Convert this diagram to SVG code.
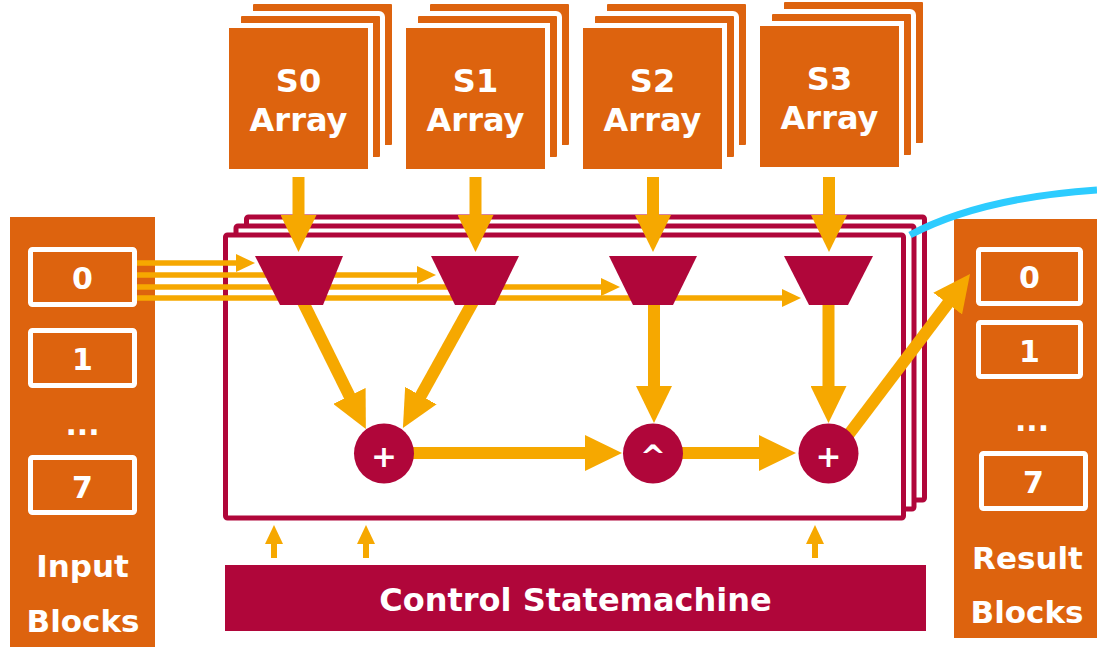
<svg xmlns="http://www.w3.org/2000/svg" width="1097" height="647" viewBox="0 0 1097 647">
  <style>
    .panel { fill: #DD630E; }
    .slot { fill: none; stroke: #FFFFFF; stroke-width: 5; }
    .layer { fill: #DD630E; stroke: #FFFFFF; stroke-width: 10; paint-order: stroke; }
    .frame { fill: #FFFFFF; stroke: #B0063A; stroke-width: 5; }
    .mux { fill: #B0063A; }
    .op { fill: #B0063A; }
    .bar { fill: #B0063A; }
    .txt { font-family: "DejaVu Sans", Verdana, sans-serif; font-weight: bold; fill: #FFFFFF; text-anchor: middle; }
    .thick { stroke: #F6A800; stroke-width: 12; fill: none; }
    .thin { stroke: #F6A800; stroke-width: 5.5; fill: none; }
    .ctl { stroke: #F6A800; stroke-width: 6; fill: none; }
    .head { fill: #F6A800; }
  </style>
  <defs>
    <marker id="bigHead" markerUnits="userSpaceOnUse" markerWidth="37" markerHeight="36" refX="1" refY="18" orient="auto">
      <path class="head" d="M0,0 L37,18 L0,36 z"/>
    </marker>
    <marker id="smallHead" markerUnits="userSpaceOnUse" markerWidth="19" markerHeight="18" refX="1" refY="9" orient="auto">
      <path class="head" d="M0,0 L19,9 L0,18 z"/>
    </marker>
  </defs>

  <rect width="1097" height="647" fill="#FFFFFF"/>

  <!-- stacked processing frames -->
  <g id="pipeline">
    <rect class="frame" x="246.5" y="217" width="678" height="283" rx="2"/>
    <rect class="frame" x="236" y="226" width="678" height="283" rx="2"/>
    <rect class="frame" x="225.5" y="235" width="678" height="283" rx="2"/>
  </g>

  <!-- input block store -->
  <g id="input-blocks">
    <rect class="panel" x="10" y="217" width="145" height="430"/>
    <rect class="slot" x="30.5" y="249.5" width="104" height="55" rx="2"/>
    <rect class="slot" x="30.5" y="330.5" width="104" height="55" rx="2"/>
    <rect class="slot" x="30.5" y="457.5" width="104" height="55" rx="2"/>
    <text class="txt" x="82.5" y="289" font-size="30">0</text>
    <text class="txt" x="82.5" y="370" font-size="30">1</text>
    <text class="txt" x="82.5" y="435" font-size="30">...</text>
    <text class="txt" x="82.5" y="498" font-size="30">7</text>
    <text class="txt" x="82.5" y="577" font-size="31">Input</text>
    <text class="txt" x="83" y="632" font-size="31">Blocks</text>
  </g>

  <!-- result block store -->
  <g id="result-blocks">
    <rect class="panel" x="954" y="219" width="143" height="419"/>
    <rect class="slot" x="978.5" y="249.5" width="102" height="54" rx="2"/>
    <rect class="slot" x="978.5" y="322.5" width="102" height="54" rx="2"/>
    <rect class="slot" x="981.5" y="453.5" width="104" height="55" rx="2"/>
    <text class="txt" x="1029.5" y="288" font-size="30">0</text>
    <text class="txt" x="1029.5" y="362" font-size="30">1</text>
    <text class="txt" x="1032" y="431" font-size="30">...</text>
    <text class="txt" x="1033.5" y="493" font-size="30">7</text>
    <text class="txt" x="1027.5" y="569" font-size="31">Result</text>
    <text class="txt" x="1027" y="623" font-size="31">Blocks</text>
  </g>

  <!-- S-box arrays, three stacked sheets each -->
  <g id="s0-array">
    <rect class="layer" x="253" y="4" width="139" height="141" rx="1"/>
    <rect class="layer" x="241" y="16" width="139" height="141" rx="1"/>
    <rect class="layer" x="229" y="28" width="139" height="141"/>
    <text class="txt" x="298.5" y="92" font-size="32">S0</text>
    <text class="txt" x="298.5" y="131" font-size="32">Array</text>
  </g>
  <g id="s1-array">
    <rect class="layer" x="430" y="4" width="139" height="141" rx="1"/>
    <rect class="layer" x="418" y="16" width="139" height="141" rx="1"/>
    <rect class="layer" x="406" y="28" width="139" height="141"/>
    <text class="txt" x="475.5" y="92" font-size="32">S1</text>
    <text class="txt" x="475.5" y="131" font-size="32">Array</text>
  </g>
  <g id="s2-array">
    <rect class="layer" x="607" y="4" width="139" height="141" rx="1"/>
    <rect class="layer" x="595" y="16" width="139" height="141" rx="1"/>
    <rect class="layer" x="583" y="28" width="139" height="141"/>
    <text class="txt" x="652.5" y="92" font-size="32">S2</text>
    <text class="txt" x="652.5" y="131" font-size="32">Array</text>
  </g>
  <g id="s3-array">
    <rect class="layer" x="784" y="2" width="139" height="141" rx="1"/>
    <rect class="layer" x="772" y="14" width="139" height="141" rx="1"/>
    <rect class="layer" x="760" y="26" width="139" height="141"/>
    <text class="txt" x="829.5" y="90" font-size="32">S3</text>
    <text class="txt" x="829.5" y="129" font-size="32">Array</text>
  </g>

  <!-- data paths -->
  <g id="connectors">
    <!-- input block bytes to the lookups -->
    <line class="thin" x1="137" y1="263" x2="237" y2="263" marker-end="url(#smallHead)"/>
    <line class="thin" x1="137" y1="275" x2="418" y2="275" marker-end="url(#smallHead)"/>
    <line class="thin" x1="137" y1="287" x2="602" y2="287" marker-end="url(#smallHead)"/>
    <line class="thin" x1="137" y1="298" x2="783" y2="298" marker-end="url(#smallHead)"/>

    <!-- S-box arrays into the lookups -->
    <line class="thick" x1="298.5" y1="177" x2="298.5" y2="216" marker-end="url(#bigHead)"/>
    <line class="thick" x1="475.5" y1="177" x2="475.5" y2="216" marker-end="url(#bigHead)"/>
    <line class="thick" x1="653" y1="177" x2="653" y2="216" marker-end="url(#bigHead)"/>
    <line class="thick" x1="829" y1="177" x2="829" y2="216" marker-end="url(#bigHead)"/>

    <!-- lookups into the operators -->
    <line class="thick" x1="302" y1="300" x2="349.9" y2="396.8" marker-end="url(#bigHead)"/>
    <line class="thick" x1="474" y1="300" x2="420.4" y2="396.5" marker-end="url(#bigHead)"/>
    <line class="thick" x1="654" y1="300" x2="654" y2="387" marker-end="url(#bigHead)"/>
    <line class="thick" x1="828.5" y1="300" x2="828.5" y2="387" marker-end="url(#bigHead)"/>

    <!-- operator chain -->
    <line class="thick" x1="384" y1="453" x2="586" y2="453" marker-end="url(#bigHead)"/>
    <line class="thick" x1="653" y1="453" x2="760" y2="453" marker-end="url(#bigHead)"/>
    <line class="thick" x1="840" y1="446" x2="948.3" y2="302.8" marker-end="url(#bigHead)"/>

    <!-- control signals -->
    <line class="ctl" x1="274" y1="558" x2="274" y2="543" marker-end="url(#smallHead)"/>
    <line class="ctl" x1="366" y1="558" x2="366" y2="543" marker-end="url(#smallHead)"/>
    <line class="ctl" x1="815" y1="558" x2="815" y2="543" marker-end="url(#smallHead)"/>

    <!-- feedback link -->
    <path d="M910,235 Q980,198 1097,190" fill="none" stroke="#2DCCFF" stroke-width="7"/>
  </g>

  <!-- table lookups -->
  <g id="mux-s0"><polygon class="mux" points="255,256 343,256 323,305 280,305"/></g>
  <g id="mux-s1"><polygon class="mux" points="431,256 519,256 495,305 455,305"/></g>
  <g id="mux-s2"><polygon class="mux" points="609,256 697,256 673,305 633,305"/></g>
  <g id="mux-s3"><polygon class="mux" points="784,256 873,256 848,305 809,305"/></g>

  <!-- operators -->
  <g id="add-1">
    <circle class="op" cx="384" cy="453.5" r="30"/>
    <text class="txt" x="384" y="467" font-size="31">+</text>
  </g>
  <g id="xor">
    <circle class="op" cx="653" cy="453.5" r="30"/>
    <text class="txt" x="653" y="467" font-size="31">^</text>
  </g>
  <g id="add-2">
    <circle class="op" cx="828.5" cy="453.5" r="30"/>
    <text class="txt" x="828.5" y="467" font-size="31">+</text>
  </g>

  <!-- control unit -->
  <g id="control">
    <rect class="bar" x="225" y="565" width="701" height="66"/>
    <text class="txt" x="575.5" y="611" font-size="32">Control Statemachine</text>
  </g>
</svg>
